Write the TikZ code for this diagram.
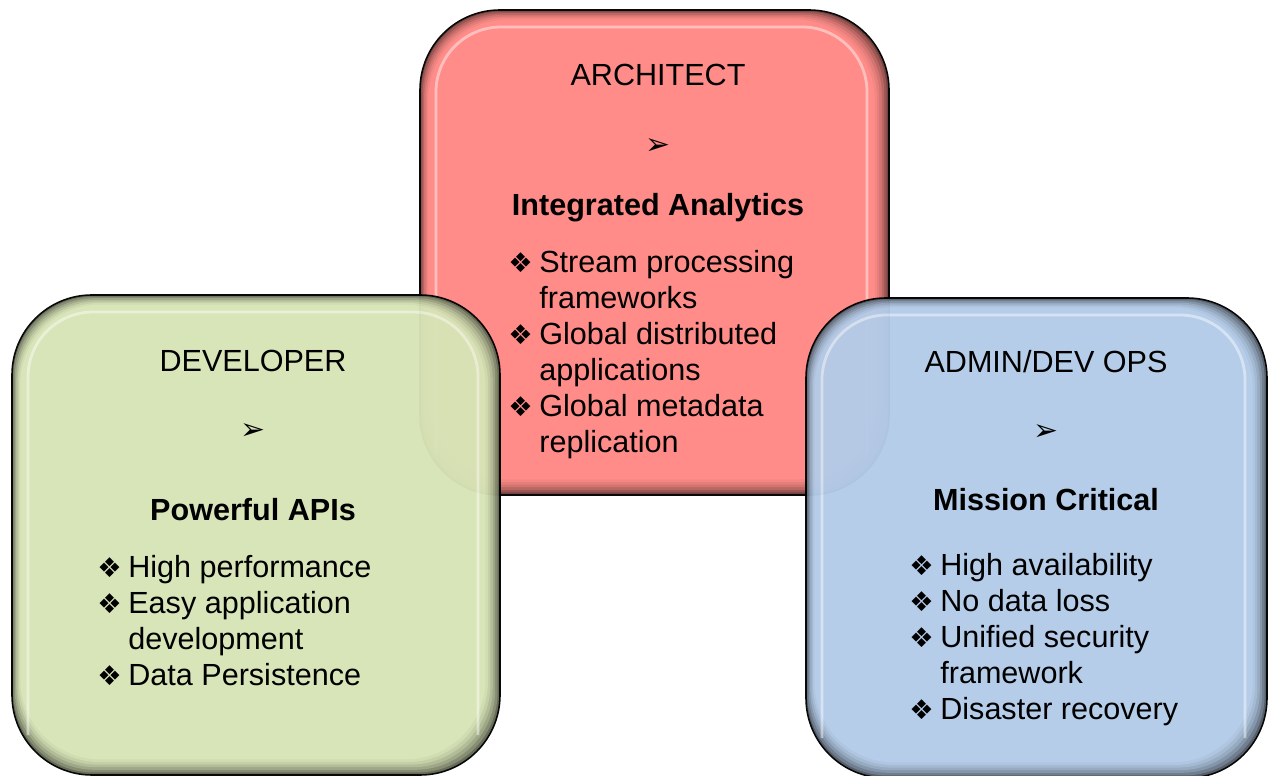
\documentclass[tikz,border=0pt]{standalone}
\usepackage{fontspec}
\setmainfont{Liberation Sans}
\newfontfamily\symfont{DejaVu Sans}
\usetikzlibrary{positioning}

\definecolor{archred}{HTML}{FF8884}
\definecolor{devgreen}{HTML}{D7E4B6}
\definecolor{opsblue}{HTML}{B3CBE8}

% bullet and hanging indent for the lists
\newcommand\bul{\makebox[0.62cm][l]{\symfont\fontsize{15.5pt}{15pt}\selectfont ❖}}
\newcommand\ind{\hspace*{0.62cm}}
\newcommand\pointer{{\symfont\fontsize{17pt}{17pt}\selectfont ➢}}

% bevelled panel: x1,y1,x2,y2,colour
\newcommand\panel[5]{%
  \begin{scope}[transparency group,opacity=.97]
    \foreach \i/\c in {0/45,2/60,4/72,6/82,8/90,10/96,12/100}
      \fill[#5!\c!black,rounded corners=1.6cm]
        ({#1+.7*\i},{#2+.8*\i}) rectangle ({#3-1.2*\i},{#4-1.3*\i});
    \draw[white,opacity=.45,line width=1.6pt,rounded corners=1.3cm]
      ({#1+16},{#4-40}) -- ({#1+16},{#2+17}) -- ({#3-22},{#2+17}) -- ({#3-22},{#4-40});
    \draw[line width=.9pt,rounded corners=1.6cm] (#1,#2) rectangle (#3,#4);
  \end{scope}}

\begin{document}
\begin{tikzpicture}[x=0.02cm,y=-0.02cm,
    every node/.style={font=\fontsize{17.4pt}{20.4pt}\selectfont,inner sep=0pt},
    title/.style={anchor=base},
    head/.style={anchor=base,font=\fontsize{17.4pt}{20.4pt}\selectfont\bfseries},
    items/.style={anchor=base west}]
  \useasboundingbox (0,0) rectangle (1268,776);

  % architect
  \panel{420}{10}{889}{495}{archred}
  \node[title] (archT) at (658,86) {ARCHITECT};
  \node (archP) at (658,147) {\pointer};
  \node[head] (archH) at (658,216) {Integrated Analytics};
  \node[items] (archL) at (508,273) {\begin{tabular}[t]{@{}l@{}}
    \bul Stream processing\\ \ind frameworks\\
    \bul Global distributed\\ \ind applications\\
    \bul Global metadata\\ \ind replication\end{tabular}};

  % developer
  \panel{12}{295}{500}{775}{devgreen}
  \node[title] (devT) at (253,372) {DEVELOPER};
  \node (devP) at (253,432) {\pointer};
  \node[head] (devH) at (253,521) {Powerful APIs};
  \node[items] (devL) at (97,578) {\begin{tabular}[t]{@{}l@{}}
    \bul High performance\\
    \bul Easy application\\ \ind development\\
    \bul Data Persistence\end{tabular}};

  % admin / dev ops
  \panel{806}{298}{1267}{778}{opsblue}
  \node[title] (opsT) at (1046,373) {ADMIN/DEV OPS};
  \node (opsP) at (1046,433) {\pointer};
  \node[head] (opsH) at (1046,511) {Mission Critical};
  \node[items] (opsL) at (909,576) {\begin{tabular}[t]{@{}l@{}}
    \bul High availability\\
    \bul No data loss\\
    \bul Unified security\\ \ind framework\\
    \bul Disaster recovery\end{tabular}};
\end{tikzpicture}
\end{document}
